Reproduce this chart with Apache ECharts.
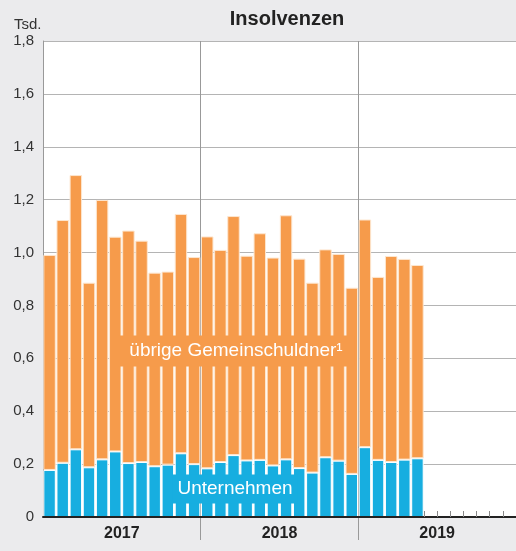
<!DOCTYPE html>
<html>
<head>
<meta charset="utf-8">
<script src="https://cdn.jsdelivr.net/npm/echarts@6/dist/echarts.min.js"></script>
<style>
  html, body { margin: 0; padding: 0; background: #ebebed; }
  #chart { width: 516px; height: 551px; }
</style>
</head>
<body>
<div id="chart"></div>
<script>
  // Monatswerte Jan 2017 - Dez 2019 (Daten bis Mai 2019)
  var monate = [];
  var jahre = ['2017', '2018', '2019'];
  for (var j = 0; j < jahre.length; j++) {
    for (var m = 1; m <= 12; m++) {
      monate.push((m < 10 ? '0' + m : '' + m) + '.' + jahre[j]);
    }
  }

  // Tsd.
  var unternehmen = [0.178, 0.205, 0.256, 0.188, 0.218, 0.248, 0.204, 0.208, 0.192, 0.198, 0.241, 0.200,
                     0.184, 0.208, 0.234, 0.214, 0.216, 0.195, 0.218, 0.185, 0.168, 0.226, 0.213, 0.163,
                     0.264, 0.216, 0.208, 0.217, 0.222];
  var uebrige = [0.813, 0.918, 1.037, 0.698, 0.981, 0.812, 0.879, 0.837, 0.732, 0.730, 0.905, 0.783,
                 0.877, 0.802, 0.904, 0.774, 0.857, 0.786, 0.923, 0.792, 0.718, 0.786, 0.782, 0.704,
                 0.861, 0.692, 0.779, 0.759, 0.731];

  var fontFam = '"Liberation Sans", Arial, Helvetica, sans-serif';
  var chart = echarts.init(document.getElementById('chart'));

  var option = {
    backgroundColor: '#ebebed',
    animation: false,
    title: {
      text: 'Insolvenzen',
      left: 282,
      top: 4,
      textAlign: 'center',
      textStyle: { fontFamily: fontFam, fontSize: 20, fontWeight: 'bold', color: '#222' }
    },
    grid: {
      left: 43, right: 0, top: 41, bottom: 34,
      show: true, backgroundColor: '#fff', borderWidth: 0
    },
    xAxis: [
      {
        type: 'category',
        data: monate,
        z: 3,
        axisLine: { lineStyle: { color: '#222', width: 2 } },
        axisTick: {
          show: true, inside: true, length: 6,
          interval: function (i) { return i >= 29; },
          lineStyle: { color: '#888' }
        },
        axisLabel: { show: false },
        splitLine: { show: false }
      },
      {
        type: 'category',
        data: jahre,
        position: 'bottom',
        offset: 0,
        axisLine: { show: false },
        axisTick: {
          show: true, length: 23,
          interval: function (i) { return i > 0; },
          lineStyle: { color: '#999' }
        },
        axisLabel: {
          margin: 9,
          fontFamily: fontFam, fontSize: 16, fontWeight: 'bold', color: '#222'
        },
        splitLine: {
          show: true,
          interval: function (i) { return i > 0; },
          lineStyle: { color: '#999', width: 1 }
        }
      }
    ],
    yAxis: {
      type: 'value',
      min: 0, max: 1.8, interval: 0.2,
      axisLine: { show: true, lineStyle: { color: '#999' } },
      axisTick: { show: false },
      axisLabel: {
        margin: 9,
        fontFamily: fontFam, fontSize: 15, color: '#333',
        formatter: function (v) { return v === 0 ? '0' : v.toFixed(1).replace('.', ','); }
      },
      splitLine: { lineStyle: { color: '#b4b4b4', width: 1 } }
    },
    series: [
      {
        name: 'Unternehmen',
        type: 'bar',
        stack: 'gesamt',
        barCategoryGap: '5%',
        itemStyle: { color: '#17aee0', borderColor: '#fff', borderWidth: 1 },
        data: unternehmen
      },
      {
        name: 'übrige Gemeinschuldner',
        type: 'bar',
        stack: 'gesamt',
        barCategoryGap: '5%',
        itemStyle: { color: '#f69b4b', borderColor: '#fde6cf', borderWidth: 1 },
        data: uebrige
      }
    ],
    graphic: [
      {
        type: 'text', left: 14, top: 17,
        style: { text: 'Tsd.', fill: '#333', font: '15px ' + fontFam }
      },
      {
        type: 'text', x: 236, y: 351, z: 10,
        style: {
          text: 'übrige Gemeinschuldner¹', fill: '#fff', font: '19px ' + fontFam,
          align: 'center', verticalAlign: 'middle',
          backgroundColor: '#f69b4b', padding: [6, 12, 6, 12]
        }
      },
      {
        type: 'text', x: 235, y: 489, z: 10,
        style: {
          text: 'Unternehmen', fill: '#fff', font: '19px ' + fontFam,
          align: 'center', verticalAlign: 'middle',
          backgroundColor: '#17aee0', padding: [5, 5, 5, 5]
        }
      }
    ]
  };
  chart.setOption(option);
</script>
</body>
</html>
